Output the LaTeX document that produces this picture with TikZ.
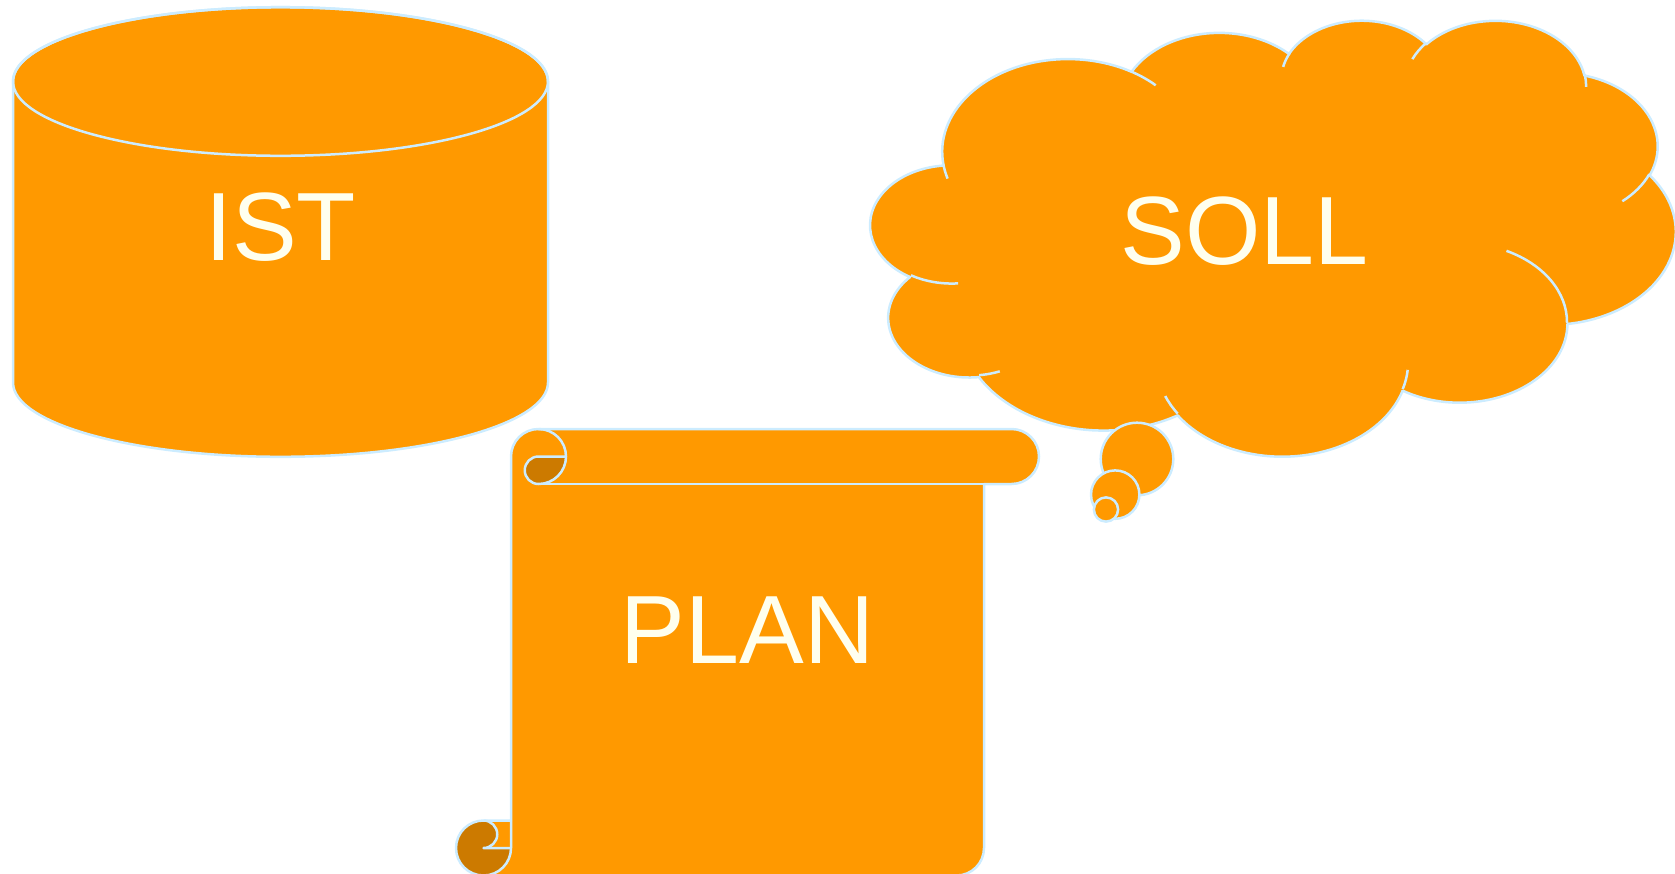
\documentclass[tikz,border=0pt]{standalone}
\usepackage{fontspec}
\setmainfont{Liberation Sans}
\usepackage{tikz}

\definecolor{panel}{HTML}{FF9900}
\definecolor{paneldark}{HTML}{CC7A00}
\definecolor{edge}{HTML}{CCECFF}
\definecolor{ink}{HTML}{FFFFEE}

\begin{document}
\begin{tikzpicture}[x=1pt, y=-1pt, line join=round,
		declare function={vis(\a,\w,\h)=\a+mod(atan2(\w*sin(\a),\h*cos(\a))-\a+900,360)-180;},
		lobe/.style n args={4}{start angle={vis(#3,#1,#2)}, end angle={vis(#3+#4,#1,#2)}, x radius=#1, y radius=#2}]
		\tikzstyle{filled} = [fill=panel, draw=edge, line width=2.5pt]
		\tikzstyle{rim} = [draw=edge, line width=2.5pt]
		\tikzstyle{word} = [text=ink, font=\fontsize{97}{110}\selectfont, anchor=base, inner sep=0pt]

		\useasboundingbox (0,0) rectangle (1675,873);

		% IST: cylinder
		\path[filled] (13,81.5) -- (13,382.5) arc[start angle=180, end angle=0, x radius=267.5, y radius=74.3]
			-- (548,81.5) arc[start angle=0, end angle=-180, x radius=267.5, y radius=74.3] -- cycle;
		\path[rim] (280.5,81.5) ellipse[x radius=267.5, y radius=74.3];
		\node[word] (ist) at (280.5,260) {IST};

		% PLAN: scroll
		\path[fill=panel] (483.5,875.5) arc[start angle=90, end angle=0, radius=27.5] -- (511,456.5)
			arc[start angle=180, end angle=270, radius=27.5] -- (1011.5,429)
			arc[start angle=-90, end angle=90, radius=27.5] -- (984,484) -- (984,848)
			arc[start angle=0, end angle=90, radius=27.5] -- cycle;
		\path[fill=paneldark] (483.5,848) circle[radius=27.5];
		\path[fill=panel] (483.5,820.5) -- (511,820.5) -- (511,848) -- (483.5,848)
			arc[start angle=90, end angle=-90, radius=13.75] -- cycle;
		\path[fill=paneldark] (566,456.5) arc[start angle=0, end angle=90, radius=27.5]
			arc[start angle=90, end angle=270, radius=13.75] -- cycle;

		\path[rim] (511,820.5) -- (511,456.5) arc[start angle=180, end angle=270, radius=27.5] -- (1011.5,429)
			arc[start angle=-90, end angle=90, radius=27.5] -- (984,484) -- (984,848)
			arc[start angle=0, end angle=90, radius=27.5] -- (483.5,875.5)
			arc[start angle=90, end angle=270, radius=27.5] -- cycle;
		\path[rim] (483.5,820.5) arc[start angle=-90, end angle=90, radius=13.75] -- (511,848);
		\path[rim] (483.5,875.5) arc[start angle=90, end angle=0, radius=27.5] -- (511,820.5);
		\path[rim] (538.5,429) arc[start angle=-90, end angle=90, radius=27.5]
			arc[start angle=90, end angle=270, radius=13.75] -- (566,456.5);
		\path[rim] (538.5,484) -- (984,484);
		\node[word] (plan) at (747.5,663.3) {PLAN};

		% SOLL: cloud with thought bubbles
		\begin{scope}[shift={(870.7,19.3)}, x=0.186273pt, y=-0.10088pt]
			\path[filled] (390,1437)
				arc[lobe={675.3}{919}{-190.4875}{123.7805}]
				arc[lobe={533.3}{726.7}{-144.1024}{89.9452}]
				arc[lobe={436.5}{594.5}{-145.8079}{99.7230}]
				arc[lobe={485.7}{659.5}{-130.9861}{117.2417}]
				arc[lobe={533.3}{727.3}{-78.7089}{109.0269}]
				arc[lobe={677.5}{922}{-46.2673}{130.2690}]
				arc[lobe={578.5}{786.7}{0.6250}{114.0333}]
				arc[lobe={675.2}{921.5}{22.4516}{115.1726}]
				arc[lobe={772}{1054.3}{66.2426}{75.7110}]
				arc[lobe={436}{591.8}{-274.9421}{146.7356}]
				arc[lobe={434.5}{594.5}{-246.8285}{152.5189}] -- cycle;
			% inner folds
			\path[rim] (469.3,2617.7) arc[lobe={434.5}{594.5}{86.742}{26.4295}]
				(692.8,3489.9) arc[lobe={436}{591.8}{73.6105}{11.4475}]
				(1647.8,3909) arc[lobe={675.2}{921.5}{137.6241}{14.0811}]
				(2882.7,3475.1) arc[lobe={675.2}{921.5}{6.4533}{15.9984}]
				(3412.9,2295.4) arc[lobe={578.5}{786.7}{-70.2924}{70.9174}]
				(4179.8,1535.4) arc[lobe={533.3}{727.3}{30.3180}{27.7515}]
				(3832.4,542.6) arc[lobe={485.7}{659.5}{-13.7443}{14.8589}]
				(2907.8,395.2) arc[lobe={485.7}{659.5}{-149.1815}{18.1954}]
				(2214.1,472) arc[lobe={436.5}{594.5}{-163.4943}{17.6864}]
				(1400,519.2) arc[lobe={675.3}{919}{-66.7070}{12.3194}]
				(412.7,1578.9) arc[lobe={675.3}{919}{157.6544}{11.8582}];
		\end{scope}
		\path[filled] (1137,459) circle[radius=36.3];
		\path[filled] (1115.2,494.6) circle[radius=24.2];
		\path[filled] (1106,509.5) circle[radius=12.1];
		\node[word] (soll) at (1244.5,264) {SOLL};
	\end{tikzpicture}
\end{document}
